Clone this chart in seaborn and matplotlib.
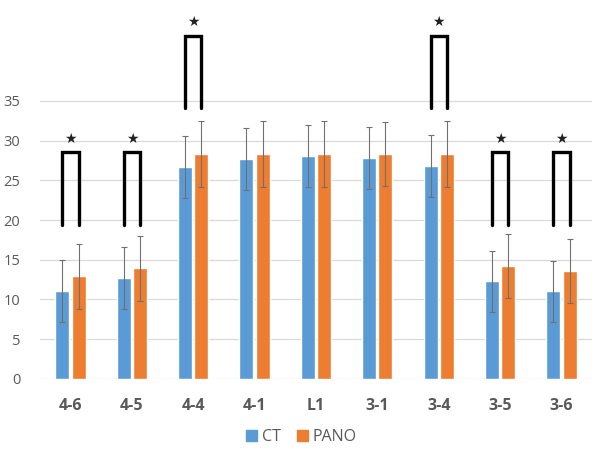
import numpy as np
import pandas as pd
import matplotlib
matplotlib.use("Agg")
import matplotlib.pyplot as plt
import seaborn as sns

# data
teeth = ["4-6", "4-5", "4-4", "4-1", "L1", "3-1", "3-4", "3-5", "3-6"]
ct_mean = [11.1, 12.75, 26.65, 27.7, 28.1, 27.8, 26.8, 12.3, 11.0]
ct_sd = [3.9, 3.9, 3.9, 3.9, 3.9, 3.9, 3.9, 3.85, 3.9]
pano_mean = [12.9, 13.9, 28.3, 28.3, 28.3, 28.3, 28.3, 14.2, 13.6]
pano_sd = [4.05, 4.1, 4.2, 4.2, 4.2, 4.0, 4.2, 4.05, 4.0]
significant = [True, True, True, False, False, False, True, True, True]
bracket_low = [19.4, 19.4, 34.1, 0, 0, 0, 34.1, 19.4, 19.4]
bracket_high = [28.5, 28.5, 43.2, 0, 0, 0, 43.2, 28.5, 28.5]

blue = "#5B9BD5"
orange = "#ED7D31"

df = pd.DataFrame({
    "tooth": teeth * 2,
    "group": ["CT"] * len(teeth) + ["PANO"] * len(teeth),
    "value": ct_mean + pano_mean,
})

sns.set_style("white")
plt.rcParams["font.family"] = ["Open Sans", "DejaVu Sans"]

fig = plt.figure(figsize=(6.03, 4.57), dpi=100)
ax = fig.add_axes([0.066, 0.171, 0.916, 0.829])

sns.barplot(data=df, x="tooth", y="value", hue="group", order=teeth,
            palette=[blue, orange], width=0.53, gap=0.14, errorbar=None,
            ax=ax, legend=False, saturation=1)

# error bars at the bar centres
bars = ax.patches
n = len(teeth)
for i, (m, s) in enumerate(zip(ct_mean + pano_mean, ct_sd + pano_sd)):
    b = bars[i]
    xc = b.get_x() + b.get_width() / 2
    ax.errorbar(xc, m, yerr=s, fmt="none", ecolor="#707070", elinewidth=0.8,
                capsize=2, capthick=0.8, zorder=3)

# significance brackets
for i in range(n):
    if not significant[i]:
        continue
    b1, b2 = bars[i], bars[i + n]
    x1 = b1.get_x() + b1.get_width() / 2
    x2 = b2.get_x() + b2.get_width() / 2
    lo, hi = bracket_low[i], bracket_high[i]
    ax.plot([x1, x1, x2, x2], [lo, hi, hi, lo], color="black", lw=2.4,
            solid_joinstyle="miter", clip_on=False)
    ax.text((x1 + x2) / 2, hi + 1.7, "\u2605", ha="center", va="center",
            fontsize=10, color="#222222", family=["DejaVu Sans"])

ax.set_ylim(0, 47.7)
ax.set_xlim(-0.5, n - 0.5)
ax.set_yticks(range(0, 36, 5))
ax.yaxis.grid(True, color="#D9D9D9", lw=0.9)
ax.set_axisbelow(True)
for sp in ax.spines.values():
    sp.set_visible(False)
ax.set_xlabel("")
ax.set_ylabel("")
ax.tick_params(axis="y", length=0, labelsize=10.5, labelcolor="#595959", pad=14)
ax.tick_params(axis="x", length=0, labelsize=11.5, labelcolor="#595959", pad=14)
for t in ax.get_xticklabels():
    t.set_fontweight("bold")

handles = [plt.Rectangle((0, 0), 1, 1, color=blue),
           plt.Rectangle((0, 0), 1, 1, color=orange)]
fig.legend(handles, ["CT", "PANO"], loc="center", bbox_to_anchor=(0.5, 0.044),
           ncol=2, frameon=False, fontsize=11.5, handlelength=0.7, handleheight=0.7,
           handletextpad=0.3, columnspacing=1.0, labelcolor="#595959")

fig.savefig("out.png", dpi=100)
